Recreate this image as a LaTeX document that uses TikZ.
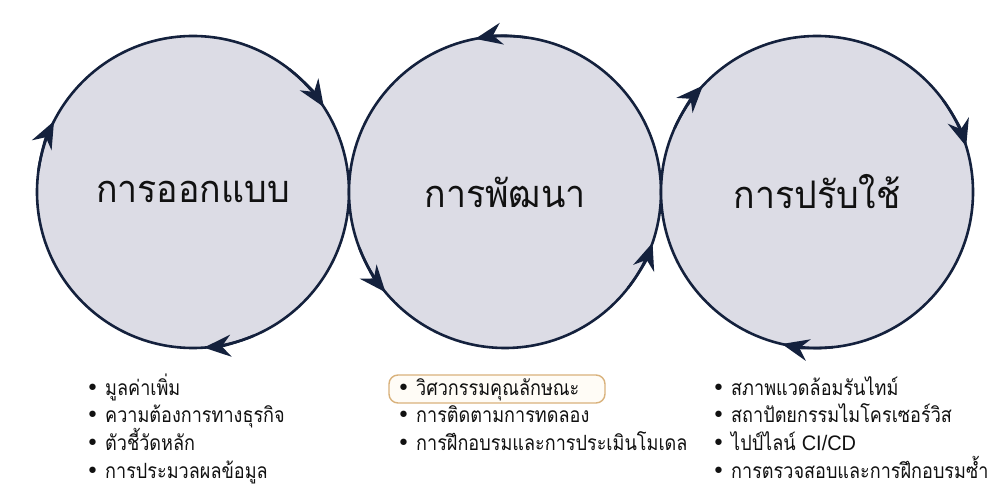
\documentclass[tikz,border=0pt]{standalone}
\usepackage{fontspec}
\newfontfamily\thai[Script=Thai]{Loma}
\newfontfamily\thaititle[Script=Thai,FakeStretch=0.94]{Loma}
\newfontfamily\thaiitem[Script=Thai,FakeStretch=0.86]{Loma}
\newfontfamily\latinf[FakeStretch=0.95]{Liberation Sans}
\newfontfamily\dejavu{DejaVu Sans}
\usetikzlibrary{arrows.meta}
\definecolor{navy}{RGB}{20,33,61}
\definecolor{phasefill}{RGB}{220,220,229}
\definecolor{gold}{RGB}{217,178,124}
\definecolor{cream}{RGB}{255,252,246}
\definecolor{ink}{RGB}{17,17,17}
\newcommand{\bul}{\makebox[19pt][l]{\dejavu\fontsize{22}{24}\selectfont •}}
\begin{document}
\begin{tikzpicture}[x=1pt,y=1pt,
  phase/.style={circle, draw=navy, line width=2.6pt, fill=phasefill,
    minimum size=312pt, inner sep=0pt, outer sep=0pt,
    font=\thaititle\fontsize{38}{40}\selectfont, text=ink},
  flowtip/.style={draw=navy, line width=2.6pt,
    -{Stealth[length=27pt,width=22pt,inset=9pt]}},
  item/.style={anchor=base west, inner sep=0pt,
    font=\thaiitem\fontsize{21}{24}\selectfont, text=ink},
  hlbox/.style={draw=gold, line width=1.4pt, fill=cream, rounded corners=9pt,
    minimum width=216pt, minimum height=28pt, inner sep=0pt}
]
\useasboundingbox (0,0) rectangle (1000,500);
\fill[white] (0,0) rectangle (1000,500);

\node[phase] (design)  at (193,308) {การออกแบบ};
\node[phase] (develop) at (505,308) {การพัฒนา};
\node[phase] (deploy)  at (817,308) {การปรับใช้};

% clockwise tips on design
\draw[flowtip] (design.52)  arc[start angle=52,  end angle=33,  radius=156];
\draw[flowtip] (design.293) arc[start angle=293, end angle=274, radius=156];
\draw[flowtip] (design.172) arc[start angle=172, end angle=153, radius=156];
% counter-clockwise tips on develop
\draw[flowtip] (develop.82)  arc[start angle=82,  end angle=101, radius=156];
\draw[flowtip] (develop.201) arc[start angle=201, end angle=220, radius=156];
\draw[flowtip] (develop.322) arc[start angle=322, end angle=341, radius=156];
% clockwise tips on deploy
\draw[flowtip] (deploy.156) arc[start angle=156, end angle=137, radius=156];
\draw[flowtip] (deploy.36)  arc[start angle=36,  end angle=17,  radius=156];
\draw[flowtip] (deploy.276) arc[start angle=276, end angle=257, radius=156];

% design list
\node[item] (d1) at (86,104) {\bul มูลค่าเพิ่ม};
\node[item] (d2) at (86,77)  {\bul ความต้องการทางธุรกิจ};
\node[item] (d3) at (86,49)  {\bul ตัวชี้วัดหลัก};
\node[item] (d4) at (86,21)  {\bul การประมวลผลข้อมูล};

% develop list
\node[hlbox] (hl) at (497,111) {};
\node[item] (v1) at (397,104) {\bul วิศวกรรมคุณลักษณะ};
\node[item] (v2) at (397,77)  {\bul การติดตามการทดลอง};
\node[item] (v3) at (397,49)  {\bul การฝึกอบรมและการประเมินโมเดล};

% deploy list
\node[item] (p1) at (712,104) {\bul สภาพแวดล้อมรันไทม์};
\node[item] (p2) at (712,77)  {\bul สถาปัตยกรรมไมโครเซอร์วิส};
\node[item] (p3) at (712,49)  {\bul ไปป์ไลน์ {\latinf CI/CD}};
\node[item] (p4) at (712,21)  {\bul การตรวจสอบและการฝึกอบรมซ้ำ};
\end{tikzpicture}
\end{document}
